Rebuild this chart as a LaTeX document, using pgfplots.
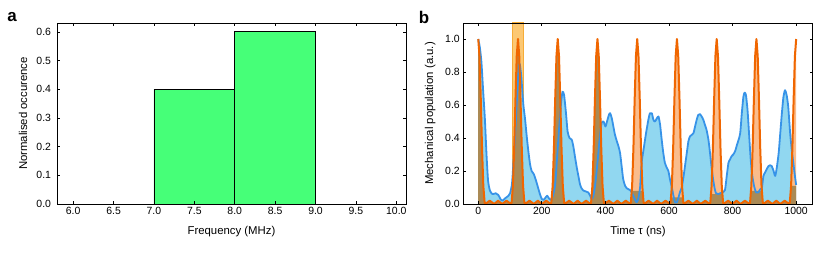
\documentclass[border=0pt]{standalone}
\usepackage{pgfplots}
\pgfplotsset{compat=1.18}
\usepackage{fontspec}
\setmainfont{Liberation Sans}
\definecolor{bargreen}{RGB}{70,255,120}
\definecolor{bandfill}{RGB}{252,200,115}
\definecolor{bandedge}{RGB}{246,172,55}
\definecolor{lblue}{RGB}{145,215,240}
\definecolor{peach}{RGB}{250,188,140}
\definecolor{brownf}{RGB}{170,138,85}
\definecolor{oline}{RGB}{240,102,0}
\definecolor{bline}{RGB}{55,147,232}

\pgfplotstableread{
t v
0 1.0
5 0.95
10 0.86
15 0.70
21 0.51
26 0.30
31 0.14
37 0.08
45 0.06
55 0.065
63 0.055
70 0.03
76 0.02
85 0.035
95 0.05
100 0.065
106 0.12
110 0.23
116 0.42
121 0.61
126 0.79
130 0.85
135 0.78
142 0.60
147 0.52
152 0.42
157 0.33
163 0.24
168 0.20
175 0.18
182 0.14
188 0.10
194 0.06
200 0.03
206 0.025
212 0.04
217 0.05
222 0.035
228 0.025
235 0.05
242 0.12
248 0.28
254 0.45
260 0.60
265 0.68
270 0.66
276 0.55
281 0.44
287 0.40
294 0.39
299 0.35
304 0.29
310 0.22
315 0.17
320 0.12
325 0.095
332 0.08
340 0.075
346 0.07
352 0.05
357 0.03
362 0.05
368 0.12
375 0.25
382 0.40
388 0.49
394 0.50
400 0.47
405 0.50
411 0.54
415 0.55
420 0.52
425 0.47
430 0.42
436 0.38
441 0.35
446 0.31
451 0.23
456 0.15
462 0.11
467 0.095
472 0.09
477 0.085
483 0.07
490 0.04
498 0.01
503 0.03
509 0.10
514 0.25
520 0.33
527 0.42
535 0.51
540 0.55
546 0.55
551 0.51
556 0.50
562 0.52
567 0.53
572 0.48
577 0.39
582 0.31
587 0.25
593 0.22
598 0.20
603 0.15
609 0.10
614 0.05
619 0.01
625 0.01
630 0.04
635 0.075
640 0.10
646 0.17
651 0.24
656 0.31
661 0.38
666 0.41
672 0.42
677 0.43
682 0.47
687 0.51
692 0.54
697 0.545
703 0.53
708 0.51
713 0.48
718 0.45
724 0.39
729 0.31
734 0.22
739 0.146
744 0.09
748 0.065
755 0.06
761 0.065
768 0.07
776 0.085
781 0.16
787 0.25
792 0.27
797 0.29
802 0.30
808 0.32
814 0.36
819 0.39
824 0.43
829 0.55
834 0.65
838 0.675
842 0.66
847 0.57
852 0.42
857 0.27
862 0.17
868 0.105
874 0.07
881 0.07
887 0.09
892 0.095
897 0.17
902 0.19
907 0.21
913 0.23
918 0.235
923 0.23
929 0.20
934 0.17
939 0.22
945 0.31
950 0.43
955 0.55
960 0.65
965 0.69
970 0.66
975 0.59
981 0.43
986 0.33
991 0.25
996 0.17
1000 0.115
}\bluedata

\pgfplotstableread{
t v
0 1
4 0.896
8 0.634
12 0.334
16 0.109
20 0.01
22 0
36 0.02
50 0
62.5 0.02
75 0
89 0.02
103 0
105 0.01
109 0.109
113 0.334
117 0.634
121 0.896
125 1
129 0.896
133 0.634
137 0.334
141 0.109
145 0.01
147 0
161 0.02
175 0
187.5 0.02
200 0
214 0.02
228 0
230 0.01
234 0.109
238 0.334
242 0.634
246 0.896
250 1
254 0.896
258 0.634
262 0.334
266 0.109
270 0.01
272 0
286 0.02
300 0
312.5 0.02
325 0
339 0.02
353 0
355 0.01
359 0.109
363 0.334
367 0.634
371 0.896
375 1
379 0.896
383 0.634
387 0.334
391 0.109
395 0.01
397 0
411 0.02
425 0
437.5 0.02
450 0
464 0.02
478 0
480 0.01
484 0.109
488 0.334
492 0.634
496 0.896
500 1
504 0.896
508 0.634
512 0.334
516 0.109
520 0.01
522 0
536 0.02
550 0
562.5 0.02
575 0
589 0.02
603 0
605 0.01
609 0.109
613 0.334
617 0.634
621 0.896
625 1
629 0.896
633 0.634
637 0.334
641 0.109
645 0.01
647 0
661 0.02
675 0
687.5 0.02
700 0
714 0.02
728 0
730 0.01
734 0.109
738 0.334
742 0.634
746 0.896
750 1
754 0.896
758 0.634
762 0.334
766 0.109
770 0.01
772 0
786 0.02
800 0
812.5 0.02
825 0
839 0.02
853 0
855 0.01
859 0.109
863 0.334
867 0.634
871 0.896
875 1
879 0.896
883 0.634
887 0.334
891 0.109
895 0.01
897 0
911 0.02
925 0
937.5 0.02
950 0
964 0.02
978 0
980 0.01
984 0.109
988 0.334
992 0.634
996 0.896
1000 1
}\orangedata

\pgfplotstableread{
t v
0 1
4 0.896
8 0.634
12 0.334
16 0.109
20 0.01
22 0
36 0.02
50 0
62.5 0.02
75 0
89 0.02
103 0
105 0.01
109 0.109
113 0.334
117 0.634
121 0.896
125 1
129 0.896
133 0.634
137 0.334
141 0.109
145 0.01
147 0
161 0.02
175 0
187.5 0.02
200 0
214 0.02
228 0
230 0.01
234 0.109
238 0.334
242 0.634
246 0.896
250 1
254 0.896
258 0.634
262 0.334
266 0.109
270 0.01
272 0
286 0.02
300 0
312.5 0.02
325 0
339 0.02
353 0
355 0.01
359 0.109
363 0.334
367 0.634
371 0.896
375 1
379 0.896
383 0.634
387 0.334
391 0.109
395 0.01
397 0
411 0.02
425 0
437.5 0.02
450 0
464 0.02
478 0
480 0.01
483 0.08
517 0.08
520 0.01
522 0
536 0.02
550 0
562.5 0.02
575 0
589 0.02
603 0
605 0.01
606.2 0.04
643.8 0.04
645 0.01
647 0
661 0.02
675 0
687.5 0.02
700 0
714 0.02
728 0
730 0.01
732 0.06
768 0.06
770 0.01
772 0
786 0.02
800 0
812.5 0.02
825 0
839 0.02
853 0
855 0.01
857.8 0.08
892.2 0.08
895 0.01
897 0
911 0.02
925 0
937.5 0.02
950 0
964 0.02
978 0
980 0.01
984 0.11
1000 0.11
}\browndata

\pgfplotsset{
  myaxis/.style={
    anchor=south west, scale only axis,
    axis line style={black, line width=0.8bp},
    tick align=inside, tick style={black, line width=0.7bp},
    major tick length=3bp,
    axis on top,
    tick label style={font=\fontsize{10.5}{12}\selectfont},
    label style={font=\fontsize{11.4}{13}\selectfont},
    xlabel style={at={(axis description cs:0.5,0)}, anchor=center, yshift=-28bp},
    /pgf/number format/assume math mode=true,
    /pgf/number format/1000 sep={},
  }
}

\begin{document}
\begin{tikzpicture}
\path[use as bounding box] (0,0) rectangle (831bp,257bp);

\begin{axis}[myaxis,
  at={(57bp,53bp)}, width=349bp, height=181bp,
  xmin=5.8, xmax=10.12, ymin=0, ymax=0.631,
  xtick={6,6.5,7,7.5,8,8.5,9,9.5,10},
  ytick={0,0.1,0.2,0.3,0.4,0.5,0.6},
  x tick label style={/pgf/number format/.cd, fixed, fixed zerofill, precision=1, /tikz/.cd},
  y tick label style={/pgf/number format/.cd, fixed, fixed zerofill, precision=1, /tikz/.cd, xshift=-2.5bp},
  xlabel={Frequency (MHz)},
  ylabel={Normalised occurence},
  ylabel style={at={([xshift=-34bp]axis description cs:0,0.5)}, anchor=center},
]
\addplot[ybar interval, fill=bargreen, draw=black, line width=0.8bp] coordinates {(7,0.4) (8,0.6) (9,0)};
\end{axis}

\begin{axis}[myaxis,
  at={(463.3bp,53bp)}, width=349.4bp, height=181bp,
  xmin=-47, xmax=1052, ymin=0, ymax=1.097,
  xtick={0,200,400,600,800,1000},
  ytick={0,0.2,0.4,0.6,0.8,1.0},
  y tick label style={/pgf/number format/.cd, fixed, fixed zerofill, precision=1, /tikz/.cd},
  xlabel={Time τ (ns)},
  ylabel={Mechanical population (a.u.)},
  ylabel style={at={([xshift=-33bp]axis description cs:0,0.5)}, anchor=center},
]
\addplot[fill=bandfill, draw=bandedge, line width=1bp] coordinates {(108,0) (108,1.097) (142,1.097) (142,0)} \closedcycle;
\addplot[fill=lblue, draw=none] table[x=t,y=v] {\bluedata} \closedcycle;
\addplot[fill=peach, draw=none] table[x=t,y=v] {\orangedata} \closedcycle;
\addplot[fill=brownf, draw=none] table[x=t,y=v] {\browndata} \closedcycle;
\addplot[bline, line width=1.8bp, smooth, tension=0.4, line join=round] table[x=t,y=v] {\bluedata};
\addplot[oline, line width=2bp, line join=round] table[x=t,y=v] {\orangedata};
\end{axis}

\node[font=\bfseries\fontsize{17}{17}\selectfont] at (12bp,240bp) {a};
\node[font=\bfseries\fontsize{17}{17}\selectfont] at (424bp,240bp) {b};
\end{tikzpicture}
\end{document}
